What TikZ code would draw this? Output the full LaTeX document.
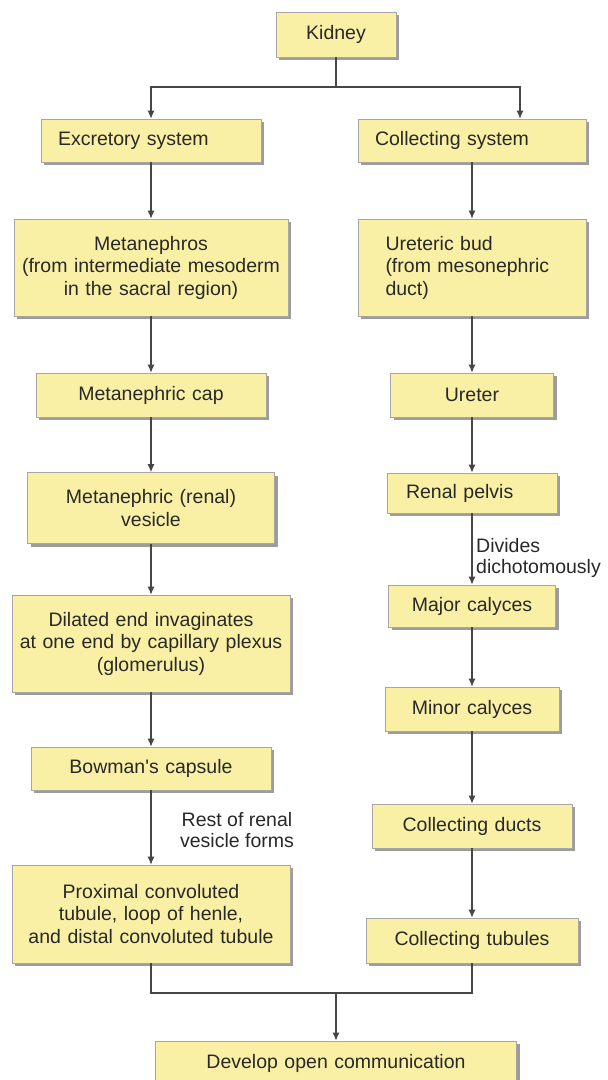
\documentclass[tikz,border=0pt]{standalone}
\usepackage{fontspec}
\setmainfont{Liberation Sans}
\usepackage{tikz}
\usetikzlibrary{arrows.meta, shadows}

\definecolor{boxfill}{RGB}{250,240,165}
\definecolor{inkgray}{RGB}{40,40,40}
\definecolor{wiregray}{RGB}{70,70,70}

\begin{document}
\begin{tikzpicture}[x=1pt, y=-1pt,
    font=\fontsize{19.5}{22.5}\selectfont,
    box/.style={draw=black!35, line width=0.6pt, fill=boxfill, text=inkgray,
        drop shadow={shadow xshift=3pt, shadow yshift=-3pt, fill=black!55, opacity=0.7},
        align=center, inner xsep=0pt, inner ysep=0pt},
    lbox/.style={box, align=left, inner xsep=#1},
    boxwh/.style 2 args={text width=#1, minimum height=#2},
    wire/.style={draw=wiregray, line width=1.2pt},
    flow/.style={wire, -{Latex[length=8pt, width=7pt]}},
    note/.style={text=inkgray, inner sep=0pt, font=\fontsize{19.5}{21}\selectfont}]

    % Page frame
    \path[use as bounding box, fill=white] (0,0) rectangle (608,1080);
    \clip (0,0) rectangle (608,1080);

    % Top of the tree
    \node[box, boxwh={120pt}{45pt}] (kidney) at (336,34.5) {Kidney};

    % Left column: excretory system
    \node[lbox=17pt, boxwh={186pt}{43pt}] (excretory) at (151,140.5) {Excretory system};
    \node[box, boxwh={274pt}{97pt}] (metanephros) at (151,267.5)
        {Metanephros\\(from intermediate mesoderm\\in the sacral region)};
    \node[box, boxwh={230pt}{44pt}] (cap) at (151,395) {Metanephric cap};
    \node[box, boxwh={247pt}{71pt}] (vesicle) at (151,508) {Metanephric (renal)\\vesicle};
    \node[box, boxwh={278pt}{97pt}] (dilated) at (151,643.5)
        {Dilated end invaginates\\at one end by capillary plexus\\(glomerulus)};
    \node[box, boxwh={240pt}{43pt}] (bowman) at (151,768.5) {Bowman\textquotesingle s capsule};
    \node[box, boxwh={278pt}{98pt}] (tubule) at (151,914)
        {Proximal convoluted\\tubule, loop of henle,\\and distal convoluted tubule};

    % Right column: collecting system
    \node[lbox=17pt, boxwh={194pt}{43pt}] (collecting) at (472,140.5) {Collecting system};
    \node[lbox=27.5pt, boxwh={173pt}{97pt}] (bud) at (472,267.5)
        {Ureteric bud\\(from mesonephric\\duct)};
    \node[box, boxwh={163pt}{44pt}] (ureter) at (472,395) {Ureter};
    \node[lbox=19pt, boxwh={132pt}{40pt}] (pelvis) at (472,493) {Renal pelvis};
    \node[box, boxwh={167pt}{42pt}] (major) at (472,606) {Major calyces};
    \node[box, boxwh={174pt}{44pt}] (minor) at (472,709) {Minor calyces};
    \node[box, boxwh={200pt}{44pt}] (ducts) at (472,826) {Collecting ducts};
    \node[box, boxwh={212pt}{45pt}] (tubules) at (472,940.5) {Collecting tubules};

    % Bottom box
    \node[box, boxwh={361pt}{44pt}] (open) at (336,1063) {Develop open communication};

    % Arrow labels
    \node[note, align=center] (restlbl) at (237,830) {Rest of renal\\vesicle forms};
    \node[note, align=left, anchor=west] (dividelbl) at (476,558) {Divides\\dichotomously};

    % Fork below the kidney
    \coordinate (fork) at (336,87);
    \draw[wire] (kidney.south) -- (fork);
    \draw[flow] (fork) -| (excretory.north);
    \draw[flow] (fork) -| ([xshift=48pt]collecting.north);

    % Left column arrows
    \draw[flow] (excretory) -- (metanephros);
    \draw[flow] (metanephros) -- (cap);
    \draw[flow] (cap) -- (vesicle);
    \draw[flow] (vesicle) -- (dilated);
    \draw[flow] (dilated) -- (bowman);
    \draw[flow] (bowman) -- (tubule);

    % Right column arrows
    \draw[flow] (collecting) -- (bud);
    \draw[flow] (bud) -- (ureter);
    \draw[flow] (ureter) -- (pelvis);
    \draw[flow] (pelvis) -- (major);
    \draw[flow] (major) -- (minor);
    \draw[flow] (minor) -- (ducts);
    \draw[flow] (ducts) -- (tubules);

    % Join at the bottom
    \coordinate (join) at (336,993);
    \draw[wire] (tubule.south) |- (join) -| (tubules.south);
    \draw[flow] (join) -- (open);
\end{tikzpicture}
\end{document}
